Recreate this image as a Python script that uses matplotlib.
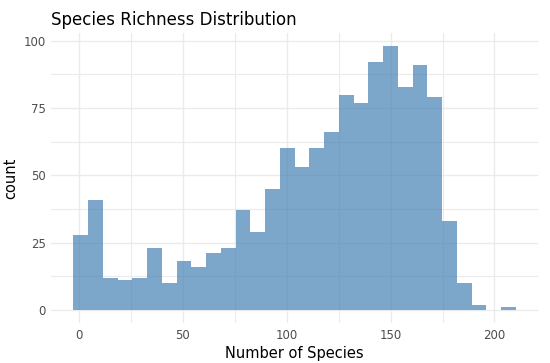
import numpy as np
import matplotlib.pyplot as plt

# histogram counts (30 bins)
counts = [28, 41, 12, 11, 12, 23, 10, 18, 16, 21, 23, 37, 29, 45, 60,
          53, 60, 66, 80, 77, 92, 98, 83, 91, 79, 33, 10, 2, 0, 1]
bin_start = -2.75
bin_width = 7.1
x_ticks = [0, 50, 100, 150, 200]
y_ticks = [0, 25, 50, 75, 100]

edges = bin_start + bin_width * np.arange(len(counts) + 1)
centers = (edges[:-1] + edges[1:]) / 2

fig = plt.figure(figsize=(5.5, 3.63), dpi=100)
ax = fig.add_axes([0.093, 0.110, 0.885, 0.799])

ax.hist(centers, bins=edges, weights=counts, color="steelblue", alpha=0.7,
        edgecolor="none", zorder=2)

# ggplot-like expansion
xr = edges[-1] - edges[0]
ax.set_xlim(edges[0] - 0.05 * xr, edges[-1] + 0.05 * xr)
ax.set_ylim(-0.05 * max(counts), max(counts) * 1.05)

ax.set_xticks(x_ticks)
ax.set_yticks(y_ticks)
ax.set_xticks([25, 75, 125, 175], minor=True)
ax.set_yticks([12.5, 37.5, 62.5, 87.5], minor=True)
ax.grid(which="major", color="#EBEBEB", linewidth=1.0, zorder=0)
ax.grid(which="minor", color="#EBEBEB", linewidth=0.8, zorder=0)
ax.set_axisbelow(True)

for s in ax.spines.values():
    s.set_visible(False)
ax.tick_params(which="both", length=0, labelsize=8.5, labelcolor="#4D4D4D", pad=4)

ax.set_xlabel("Number of Species", fontsize=10.5, color="black", labelpad=3)
ax.set_ylabel("count", fontsize=10.5, color="black", labelpad=4)
ax.set_title("Species Richness Distribution", fontsize=12, loc="left",
             color="black", pad=6)

fig.savefig("out.png", dpi=100)
